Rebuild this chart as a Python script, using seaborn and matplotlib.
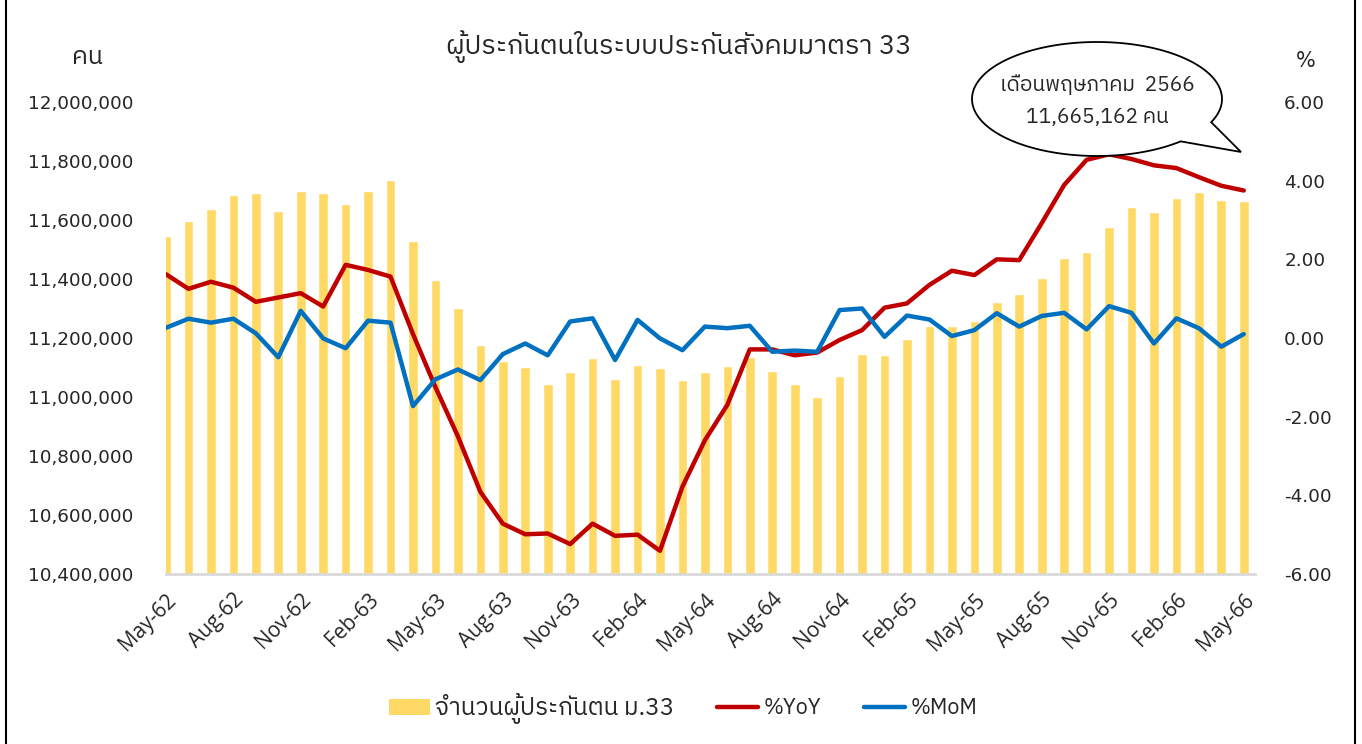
import numpy as np
import pandas as pd
import matplotlib
matplotlib.use("Agg")
import matplotlib.pyplot as plt
import seaborn as sns
from matplotlib import font_manager
from matplotlib.ft2font import FT2Font
from matplotlib.patches import Polygon, Patch
from matplotlib.lines import Line2D
from matplotlib.ticker import FuncFormatter, FixedLocator

# ---------------- data ----------------
months = ["May-62", "Jun-62", "Jul-62", "Aug-62", "Sep-62", "Oct-62", "Nov-62", "Dec-62",
          "Jan-63", "Feb-63", "Mar-63", "Apr-63", "May-63", "Jun-63", "Jul-63", "Aug-63",
          "Sep-63", "Oct-63", "Nov-63", "Dec-63", "Jan-64", "Feb-64", "Mar-64", "Apr-64",
          "May-64", "Jun-64", "Jul-64", "Aug-64", "Sep-64", "Oct-64", "Nov-64", "Dec-64",
          "Jan-65", "Feb-65", "Mar-65", "Apr-65", "May-65", "Jun-65", "Jul-65", "Aug-65",
          "Sep-65", "Oct-65", "Nov-65", "Dec-65", "Jan-66", "Feb-66", "Mar-66", "Apr-66",
          "May-66"]

insured = [11546000, 11597000, 11637000, 11685000, 11692000, 11631000, 11698000, 11692000,
           11655000, 11698000, 11736000, 11528000, 11397000, 11302000, 11175000, 11123000,
           11103000, 11044000, 11084000, 11132000, 11062000, 11110000, 11100000, 11058000,
           11085000, 11106000, 11135000, 11088000, 11044000, 11000000, 11070000, 11146000,
           11141000, 11197000, 11241000, 11241000, 11259000, 11321000, 11349000, 11403000,
           11470000, 11492000, 11576000, 11645000, 11627000, 11675000, 11695000, 11667000,
           11665162]

yoy = [1.62, 1.25, 1.43, 1.28, 0.92, 1.03, 1.14, 0.80, 1.86, 1.73, 1.56, 0.10,
       -1.25, -2.50, -3.91, -4.72, -4.99, -4.97, -5.24, -4.72, -5.03, -5.00, -5.41, -3.78,
       -2.60, -1.70, -0.29, -0.29, -0.44, -0.37, -0.05, 0.20, 0.77, 0.88, 1.35, 1.71,
       1.60, 2.00, 1.98, 2.92, 3.89, 4.53, 4.67, 4.55, 4.39, 4.32, 4.09, 3.87, 3.75]

mom = [0.26, 0.49, 0.39, 0.49, 0.12, -0.49, 0.69, -0.01, -0.26, 0.44, 0.39, -1.73,
       -1.05, -0.80, -1.07, -0.41, -0.14, -0.44, 0.42, 0.50, -0.56, 0.46, -0.01, -0.31,
       0.29, 0.25, 0.31, -0.35, -0.32, -0.35, 0.71, 0.75, 0.03, 0.57, 0.47, 0.05,
       0.20, 0.63, 0.29, 0.56, 0.64, 0.22, 0.81, 0.64, -0.14, 0.50, 0.25, -0.22, 0.10]

title_text = "ผู้ประกันตนในระบบประกันสังคมมาตรา 33"
left_unit = "คน"
right_unit = "%"
bar_label = "จำนวนผู้ประกันตน ม.33"
yoy_label = "%YoY"
mom_label = "%MoM"
bubble_line1 = "เดือนพฤษภาคม  2566"
bubble_line2 = "11,665,162 คน"

# ---------------- fonts ----------------
def find_font(ch, prefer=("Thai", "Tahoma", "Sarabun", "Loma", "Garuda", "Norasi")):
    cands = []
    for f in font_manager.fontManager.ttflist:
        try:
            ft = FT2Font(f.fname)
            if ft.get_char_index(ord(ch)):
                cands.append(f.name)
        except Exception:
            pass
    for p in prefer:
        for c in cands:
            if p.lower() in c.lower():
                return c
    return cands[0] if cands else None

thai = find_font("ก")
sns.set_theme(style="white")
base = "DejaVu Sans"
fam_thai = [thai, base] if thai else [base]
plt.rcParams["font.family"] = fam_thai

BAR_C = "#FFD966"
RED = "#C00000"
BLUE = "#0070C0"

# ---------------- figure ----------------
W, H = 1362, 744
fig = plt.figure(figsize=(W / 100, H / 100), dpi=100)
ax = fig.add_axes([166 / W, 1 - 574 / H, (1255 - 166) / W, (574 - 102) / H])

x = np.arange(len(months))
df = pd.DataFrame({"idx": x, "month": months, "insured": insured, "yoy": yoy, "mom": mom})

sns.barplot(data=df, x="idx", y="insured", color=BAR_C, saturation=1, width=0.43,
            ax=ax, native_scale=True, zorder=2)
ax.set_ylim(10400000, 12000000)
ax.set_xlim(0, 48.5)
ax.yaxis.set_major_locator(FixedLocator(np.arange(10400000, 12000001, 200000)))
ax.yaxis.set_major_formatter(FuncFormatter(lambda v, p: f"{int(round(v)):,}"))
ax.set_xticks(x[::3])
ax.set_xticklabels(months[::3], rotation=45, ha="right", rotation_mode="anchor",
                   fontsize=15, family=["Open Sans", base])
ax.tick_params(axis="x", length=0, pad=11)
ax.tick_params(axis="y", length=0, pad=23.5, labelsize=13.2)
for lab in ax.get_yticklabels():
    lab.set_family(base)
ax.set_xlabel("")
ax.set_ylabel("")
for s in ["left", "right", "top"]:
    ax.spines[s].set_visible(False)
ax.spines["bottom"].set_color("#D9D9D9")
ax.spines["bottom"].set_linewidth(2)
ax.grid(False)

ax2 = ax.twinx()
sns.lineplot(data=df, x="idx", y="yoy", color=RED, lw=3.2, ax=ax2, zorder=3)
sns.lineplot(data=df, x="idx", y="mom", color=BLUE, lw=3.2, ax=ax2, zorder=4)
ax2.set_ylim(-6, 6)
ax2.set_xlim(0, 48.5)
ax2.yaxis.set_major_locator(FixedLocator(np.arange(-6, 6.01, 2)))
ax2.yaxis.set_major_formatter(FuncFormatter(lambda v, p: f"{v:.2f}".replace("\u2212", "-")))
ax2.tick_params(axis="y", length=0, pad=21, labelsize=13.2)
for lab in ax2.get_yticklabels():
    lab.set_family(base)
ax2.set_ylabel("")
ax2.set_xlabel("")
for s in ["left", "right", "top", "bottom"]:
    ax2.spines[s].set_visible(False)
ax2.grid(False)

# ---------------- texts ----------------
fig.text(679 / W, 1 - 47 / H, title_text, ha="center", va="center", fontsize=19.5, family=fam_thai)
fig.text(88 / W, 1 - 57 / H, left_unit, ha="center", va="center", fontsize=18, family=fam_thai)
fig.text(1306 / W, 1 - 61 / H, right_unit, ha="center", va="center", fontsize=15, family=[base])

# ---------------- speech bubble ----------------
cx, cy, a, b = 1097, 99, 125, 57
t_gap0, t_gap1 = np.deg2rad(-48), np.deg2rad(-24)   # angles of tail base
ang = np.linspace(t_gap1, t_gap0 + 2 * np.pi, 300)
pts = [(cx + a * np.cos(t), cy - b * np.sin(t)) for t in ang]  # pixel coords, y down
tip = (1241, 152)
pts.append(tip)
pts = np.array(pts)
figpts = np.column_stack([pts[:, 0] / W, 1 - pts[:, 1] / H])
bubble = Polygon(figpts, closed=True, transform=fig.transFigure, facecolor="white",
                 edgecolor="black", lw=1.3, zorder=10)
fig.patches.append(bubble)
fig.text(cx / W, 1 - 85 / H, bubble_line1, ha="center", va="center", fontsize=15,
         family=fam_thai, zorder=11)
fig.text(cx / W, 1 - 118 / H, bubble_line2, ha="center", va="center", fontsize=15,
         family=fam_thai, zorder=11)

# ---------------- legend ----------------
handles = [Patch(facecolor=BAR_C, edgecolor="none", label=bar_label),
           Line2D([0], [0], color=RED, lw=3.2, label=yoy_label),
           Line2D([0], [0], color=BLUE, lw=3.2, label=mom_label)]
leg = fig.legend(handles=handles, loc="center", bbox_to_anchor=(683 / W, 1 - 708 / H), ncol=3,
                 frameon=False, handlelength=1.9, handletextpad=0.25, columnspacing=2.0,
                 prop={"family": fam_thai, "size": 15.5})
leg.get_texts()[0].set_fontsize(17.5)

# ---------------- frame ----------------
fig.add_artist(Line2D([6 / W, 6 / W], [0, 1], transform=fig.transFigure, color="black", lw=1.5))
fig.add_artist(Line2D([1355 / W, 1355 / W], [0, 1], transform=fig.transFigure, color="black", lw=1.5))

fig.savefig("out.png", dpi=100)
